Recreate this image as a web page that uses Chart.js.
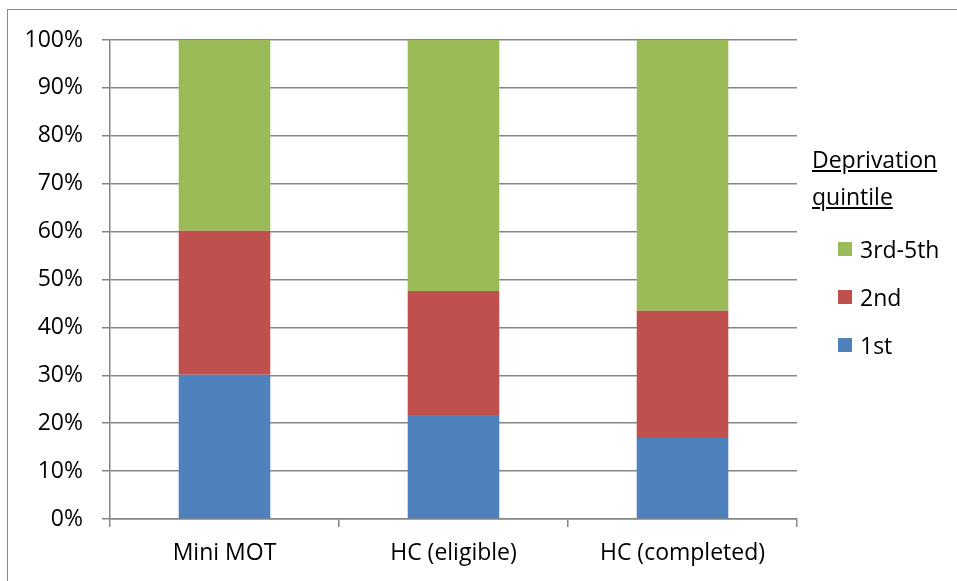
<!DOCTYPE html>
<html lang="en">
<head>
  <meta charset="UTF-8" />
  <title>Deprivation quintile</title>
  <script src="https://cdn.jsdelivr.net/npm/chart.js"></script>
  <style>
    html, body {
      margin: 0;
      padding: 0;
      background: #fff;
      overflow: hidden;
      font-family: "Open Sans", sans-serif;
    }
    .frame {
      position: absolute;
      left: 7px;
      top: 9px;
      width: 1200px;
      height: 800px;
      border: 1.5px solid #8a8a8a;
    }
    .wrap {
      position: absolute;
      left: 0;
      top: 0;
      width: 957px;
      height: 581px;
    }
    .legend {
      position: absolute;
      left: 812px;
      top: 141px;
      font-size: 23px;
      color: #000;
    }
    .legend .title {
      text-decoration: underline;
      line-height: 37px;
      height: 37px;
    }
    .legend .item {
      display: flex;
      align-items: center;
      height: 48px;
      line-height: 48px;
      margin-left: 26px;
    }
    .legend .box {
      width: 14px;
      height: 14px;
      margin-right: 8px;
    }
  </style>
</head>
<body>
  <div class="frame"></div>
  <div class="wrap">
    <canvas id="chart" width="957" height="581"></canvas>
  </div>
  <div class="legend" id="legend"></div>

  <script>
    const categories = ['Mini MOT', 'HC (eligible)', 'HC (completed)'];
    const first = [30.1, 21.7, 16.9];
    const second = [30.1, 25.9, 26.6];
    const thirdToFifth = [39.8, 52.4, 56.5];
    const seriesNames = ['1st', '2nd', '3rd-5th'];
    const colours = ['#4F81BD', '#C0504D', '#9BBB59'];
    const legendTitle = ['Deprivation', 'quintile'];

    const gridGrey = '#868686';
    const fontSpec = { family: '"Open Sans", sans-serif', size: 23 };

    const seriesData = [first, second, thirdToFifth];
    const datasets = seriesData.map((d, i) => ({
      label: seriesNames[i],
      data: d,
      backgroundColor: colours[i],
      borderWidth: 0,
      barPercentage: 0.8,
      categoryPercentage: 0.5
    }));

    new Chart(document.getElementById('chart').getContext('2d'), {
      type: 'bar',
      data: { labels: categories, datasets: datasets },
      options: {
        responsive: false,
        animation: false,
        layout: { padding: { left: 0, right: 160, top: 40, bottom: 0 } },
        plugins: {
          legend: { display: false },
          tooltip: { enabled: false }
        },
        scales: {
          x: {
            stacked: true,
            grid: {
              display: true,
              drawOnChartArea: false,
              color: gridGrey,
              tickLength: 8,
              lineWidth: 1.5
            },
            border: { color: gridGrey, width: 1.5 },
            ticks: { color: '#000', font: fontSpec, padding: 13 },
            afterFit: s => { s.height = 62; }
          },
          y: {
            stacked: true,
            min: 0,
            max: 100,
            grid: {
              color: gridGrey,
              tickLength: 8,
              lineWidth: 1.5
            },
            border: { color: gridGrey, width: 1.5 },
            ticks: {
              stepSize: 10,
              color: '#000',
              font: fontSpec,
              padding: 19,
              callback: v => v + '%'
            },
            afterFit: s => { s.width = 110; }
          }
        }
      }
    });

    // legend, reversed like the original
    const legend = document.getElementById('legend');
    legendTitle.forEach(t => {
      const div = document.createElement('div');
      div.className = 'title';
      div.textContent = t;
      legend.appendChild(div);
    });
    const spacer = document.createElement('div');
    spacer.style.height = '10px';
    legend.appendChild(spacer);
    for (let i = seriesNames.length - 1; i >= 0; i--) {
      const item = document.createElement('div');
      item.className = 'item';
      item.innerHTML = '<span class="box" style="background:' + colours[i] + '"></span>' + seriesNames[i];
      legend.appendChild(item);
    }
  </script>
</body>
</html>
